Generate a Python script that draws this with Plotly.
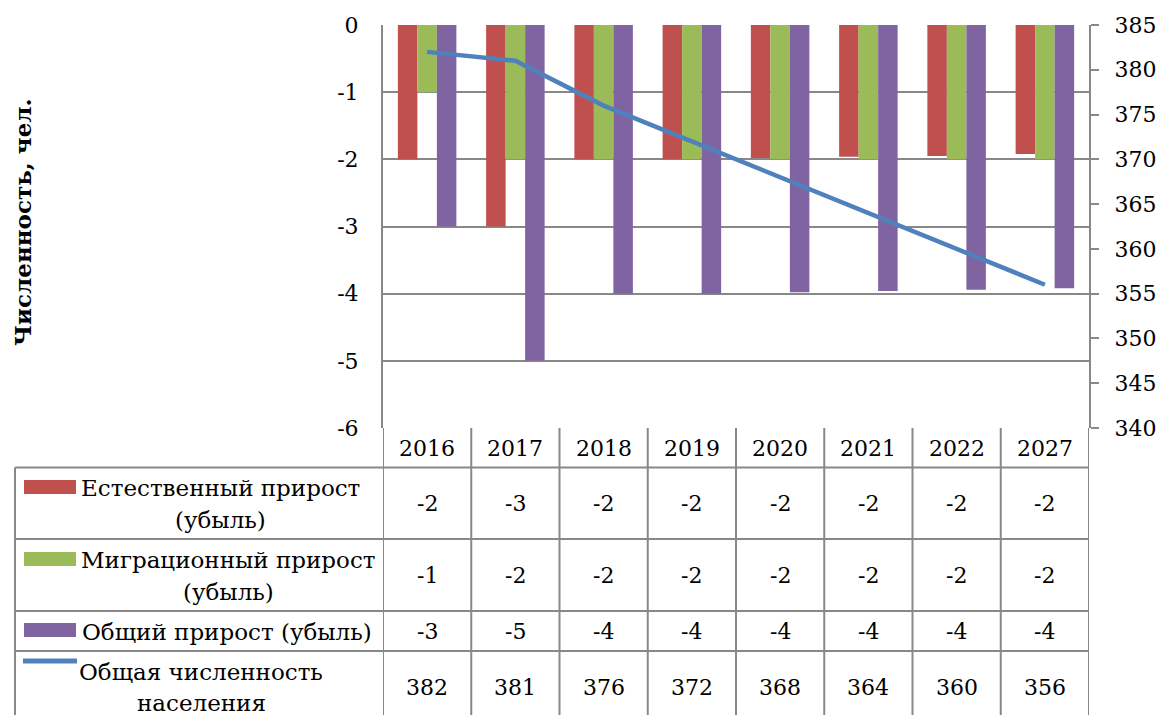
import plotly.graph_objects as go

# data
years = ["2016", "2017", "2018", "2019", "2020", "2021", "2022", "2027"]
natural = [-2, -3, -2, -2, -1.98, -1.96, -1.95, -1.92]
migration = [-1, -2, -2, -2, -2, -2, -2, -2]
total_growth = [-3, -5, -4, -4, -3.98, -3.96, -3.94, -3.92]
population = [382, 381, 376, 372, 368, 364, 360, 356]

natural_lbl = ["-2", "-3", "-2", "-2", "-2", "-2", "-2", "-2"]
migration_lbl = ["-1", "-2", "-2", "-2", "-2", "-2", "-2", "-2"]
total_lbl = ["-3", "-5", "-4", "-4", "-4", "-4", "-4", "-4"]
population_lbl = ["382", "381", "376", "372", "368", "364", "360", "356"]

left_ticks = [0, -1, -2, -3, -4, -5, -6]
left_tick_text = ["0", "-1", "-2", "-3", "-4", "-5", "-6"]

series_names = [
    ["Естественный прирост", "(убыль)"],
    ["Миграционный прирост", "(убыль)"],
    ["Общий прирост (убыль)"],
    ["Общая численность", "населения"],
]
colors = ["#C0504D", "#9BBB59", "#8064A2", "#4F81BD"]

FONT = "DejaVu Serif, Liberation Serif, serif"
FS = 23
FSN = 22
GRID = "#888888"

W, H = 1160, 715
PLOT_L, PLOT_R, PLOT_T, PLOT_B = 383, 1089, 25, 428
ML, MR, MT, MB = PLOT_L, W - PLOT_R, PLOT_T, H - PLOT_B
PW, PH = PLOT_R - PLOT_L, PLOT_B - PLOT_T


def px(x):
    return (x - PLOT_L) / PW


def py(y):
    return (PLOT_B - y) / PH


fig = go.Figure()
for vals, name, col in zip([natural, migration, total_growth], series_names[:3], colors[:3]):
    fig.add_trace(go.Bar(x=years, y=vals, name=" ".join(name), marker_color=col,
                         marker_line_width=0, yaxis="y"))
fig.add_trace(go.Scatter(x=years, y=population, name=" ".join(series_names[3]), mode="lines",
                         line=dict(color=colors[3], width=4.5), yaxis="y2"))

shapes = []
annotations = []

# table grid
table_bottom = 716
for y in [467.5, 539, 611, 651]:
    shapes.append(dict(type="line", xref="paper", yref="paper", x0=px(15), x1=px(1089),
                       y0=py(y), y1=py(y), line=dict(color=GRID, width=2)))
shapes.append(dict(type="line", xref="paper", yref="paper", x0=px(15), x1=px(15),
                   y0=py(467.5), y1=py(table_bottom), line=dict(color=GRID, width=2)))
for i in range(len(years) + 1):
    shapes.append(dict(type="line", xref="x", yref="paper", x0=i - 0.5, x1=i - 0.5,
                       y0=py(428), y1=py(table_bottom), line=dict(color=GRID, width=2)))

# year header
for i, yr in enumerate(years):
    annotations.append(dict(x=i, y=py(448), xref="x", yref="paper", text=yr,
                            xanchor="center", yanchor="middle", showarrow=False,
                            font=dict(size=FSN, color="black", family=FONT)))

row_centers = [503, 575, 631, 687]
line_y = [[488, 520], [560, 592], [632], [672, 703]]
label_cx = [220, 228, 227, 201]
swatch_y = [487, 559, 630, 661]
for r, (lbls, name, col) in enumerate(zip([natural_lbl, migration_lbl, total_lbl, population_lbl],
                                          series_names, colors)):
    for i, t in enumerate(lbls):
        annotations.append(dict(x=i, y=py(row_centers[r]), xref="x", yref="paper", text=t,
                                xanchor="center", yanchor="middle", showarrow=False,
                                font=dict(size=FSN, color="black", family=FONT)))
    for k, line in enumerate(name):
        annotations.append(dict(x=px(label_cx[r]), y=py(line_y[r][k]), xref="paper", yref="paper",
                                xanchor="center", yanchor="middle", text=line,
                                showarrow=False, font=dict(size=FS, color="black", family=FONT)))
    if r < 3:
        shapes.append(dict(type="rect", xref="paper", yref="paper", x0=px(24), x1=px(76),
                           y0=py(swatch_y[r] - 7), y1=py(swatch_y[r] + 7),
                           fillcolor=col, line=dict(width=0)))
    else:
        shapes.append(dict(type="line", xref="paper", yref="paper", x0=px(23), x1=px(77),
                           y0=py(swatch_y[r]), y1=py(swatch_y[r]),
                           line=dict(color=col, width=5)))

# axis title
annotations.append(dict(x=px(23), y=py(222), xref="paper", yref="paper", text="<b>Численность, чел.</b>",
                        xanchor="center", yanchor="middle", textangle=-90, showarrow=False,
                        font=dict(size=23, color="black", family=FONT)))

fig.update_layout(
    width=W, height=H,
    margin=dict(l=ML, r=MR, t=MT, b=MB, pad=0),
    plot_bgcolor="white", paper_bgcolor="white",
    barmode="group", bargap=0.337, bargroupgap=0,
    showlegend=False,
    font=dict(family=FONT, size=FSN, color="black"),
    xaxis=dict(type="category", showticklabels=False, showgrid=False, showline=False, ticks="",
               range=[-0.5, len(years) - 0.5], fixedrange=True, automargin=False),
    yaxis=dict(range=[-6, 0], tickvals=left_ticks, ticktext=left_tick_text,
               showgrid=True, gridcolor=GRID, gridwidth=2, automargin=False,
               zeroline=False, showline=True, linecolor=GRID, linewidth=2, ticks="",
               ticklabelstandoff=18, tickfont=dict(size=FSN, family=FONT, color="black")),
    yaxis2=dict(range=[340, 385], dtick=5, overlaying="y", side="right", showgrid=False,
                zeroline=False, showline=True, linecolor=GRID, linewidth=2, ticks="outside",
                ticklen=8, tickcolor=GRID, tickwidth=2, ticklabelstandoff=11, automargin=False,
                tickfont=dict(size=FSN, family=FONT, color="black")),
    shapes=shapes,
    annotations=annotations,
)

# drop the default 8px page margin so the figure fills the window exactly
fig.write_html("out.html", config={"displayModeBar": False},
               post_script="document.body.style.margin = '0';")
